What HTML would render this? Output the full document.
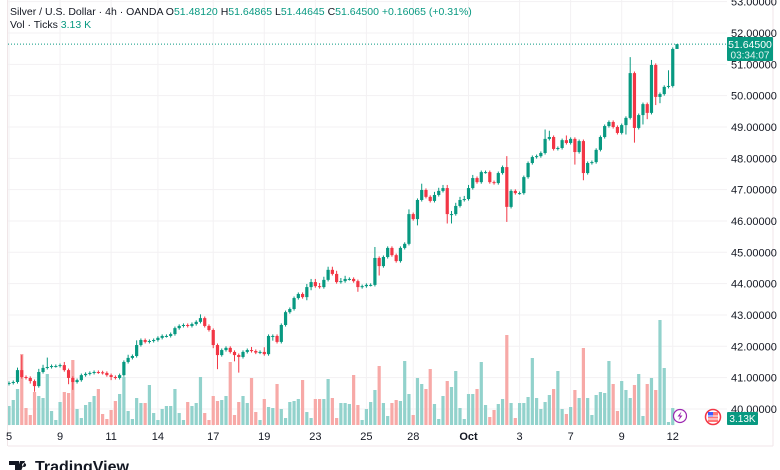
<!DOCTYPE html>
<html><head><meta charset="utf-8"><style>
html,body{margin:0;padding:0;background:#fff;width:780px;height:470px;overflow:hidden;font-family:"Liberation Sans",sans-serif}
svg{display:block}
</style></head><body>
<svg id="chart" width="780" height="470" xmlns="http://www.w3.org/2000/svg">
<rect x="0" y="0" width="780" height="470" fill="#fff"/>
<g id="grid"></g>
<g id="vol"></g>
<g id="candles"></g>
<line x1="8" y1="446" x2="773" y2="446" stroke="#f0e6e8"/>
<line x1="773" y1="0" x2="773" y2="446" stroke="#f0e6e8"/>
<line x1="7.5" y1="0" x2="7.5" y2="446" stroke="#f0e6e8"/>
<g id="yaxis" font-size="11" fill="#131722"></g>
<g id="xaxis" font-size="11" fill="#131722"></g>
<line id="lastline" x1="8" x2="727" stroke="#089981" stroke-dasharray="1,2"/>
<g>
<rect x="727" y="37" width="46" height="24" fill="#089981" rx="1"/>
<text x="750" y="48" font-size="10.5" fill="#fff" text-anchor="middle">51.64500</text>
<text x="750" y="58.5" font-size="10" fill="#e6f5f2" text-anchor="middle">03:34:07</text>
</g>
<g>
<rect x="727" y="412" width="31" height="13" fill="#089981" rx="1"/>
<text x="742.5" y="422" font-size="10" fill="#fff" text-anchor="middle">3.13K</text>
</g>
<g>
<circle cx="713" cy="417" r="7.5" fill="#fff" stroke="#f23645" stroke-width="1.5"/>
<rect x="708" y="412" width="10" height="10" fill="#f77" /><rect x="708" y="412" width="5" height="5" fill="#3d5afe"/>
<line x1="708" y1="416" x2="718" y2="416" stroke="#fff"/><line x1="708" y1="419" x2="718" y2="419" stroke="#fff"/>
</g>
<g>
<circle cx="680" cy="416" r="6.5" fill="#fff" stroke="#9c27b0" stroke-width="1.2"/>
<path d="M681.5 411.5 L677.5 416.5 L680 416.5 L678.5 420.5 L682.5 415.5 L680 415.5 Z" fill="#9c27b0"/>
</g>
<text x="10" y="15" font-size="10.5" fill="#131722">Silver / U.S. Dollar · 4h · OANDA <tspan fill="#131722">O</tspan><tspan fill="#089981">51.48120</tspan> <tspan>H</tspan><tspan fill="#089981">51.64865</tspan> <tspan>L</tspan><tspan fill="#089981">51.44645</tspan> <tspan>C</tspan><tspan fill="#089981">51.64500</tspan> <tspan fill="#089981">+0.16065 (+0.31%)</tspan></text>
<text x="10" y="28" font-size="10.5" fill="#131722">Vol · Ticks <tspan fill="#089981">3.13 K</tspan></text>
<g>
<path d="M9 461 h10 v10 h-4 v-6 h-6 z M20 461 h5 l-4 10 h-4 z M24 463 a2 2 0 1 0 0.1 0" fill="#131722"/>
<text x="35" y="472" font-size="16" font-weight="bold" fill="#131722">TradingView</text>
</g>
</svg>
<script>
const closes=[40.83,40.86,41.24,41.02,40.99,40.89,40.73,41.18,41.31,41.34,41.37,41.37,41.40,41.24,40.99,40.86,40.92,41.08,41.12,41.15,41.18,41.17,
41.15,41.08,41.02,40.99,41.08,41.50,41.63,41.69,42.04,42.20,42.14,42.17,42.20,42.27,42.33,42.33,42.39,42.58,42.65,42.68,42.65,42.71,42.78,42.90,42.65,42.52,42.04,41.72,41.88,41.95,41.82,41.72,41.66,41.82,41.88,41.85,41.80,
41.82,41.75,42.33,42.33,42.14,42.68,43.09,43.19,43.54,43.67,43.57,43.89,44.05,43.92,43.89,44.12,44.44,44.31,44.05,44.08,44.15,44.15,44.08,43.89,43.92,43.96,43.96,44.82,44.56,44.85,45.14,44.91,44.72,45.14,45.27,46.22,46.06,46.67,46.99,46.77,46.64,46.83,46.96,47.05,46.22,46.22,46.48,46.67,46.70,47.05,47.37,47.24,47.56,47.56,47.24,47.21,47.53,47.72,46.45,46.96,46.89,46.89,47.40,47.85,48.04,48.07,48.17,48.62,48.68,48.30,48.33,48.58,48.49,48.62,48.20,48.55,47.53,47.85,47.88,48.27,48.68,49.03,49.16,49.00,48.81,49.06,49.29,50.72,48.97,49.38,49.73,49.45,50.98,49.96,50.05,50.28,50.31,51.49,51.645];
const firstOpen=40.80;
const wickUp=[.05,.05,.08,.48,.05,.05,.05,.1,.1,.3, .05,.05,.05,.1,.05,.05,.05,.05,.05,.05, .05,.05,.05,.05,.05,.05,.05,.05,.1,.05, .15,.05,.05,.05,.05,.05,.05,.05,.05,.05, .05,.05,.05,.05,.05,.12,.05,.05,.05,.05,
.05,.05,.05,.05,.05,.05,.05,.1,.05,.05, .15,.05,.05,.05,.05,.05,.05,.05,.05,.05, .1,.1,.1,.1,.1,.1,.1,.1,.1,.1, .05,.05,.05,.05,.05,.05,.35,.05,.05,.05, .05,.05,.05,.05,.15,.05,.05,.2,.05,.05,
.1,.1,.1,.1,.1,.1,.1,.1,.1,.1, .05,.05,.05,.05,.05,.05,.05,.35,.05,.05, .05,.05,.05,.05,.05,.05,.3,.2,.05,.05, .05,.15,.05,.05,.05,.05,.05,.05,.05,.05, .05,.05,.05,.05,.05,.05,.51,.05,.05,.05, .05,.16,.05,.05,.05,.5,.05];
const wickDn=[.05,.05,.05,.05,.05,.08,.18,.05,.05,.05, .05,.05,.05,.05,.2,.25,.05,.05,.05,.05, .05,.05,.05,.05,.1,.05,.05,.05,.05,.05, .05,.05,.05,.05,.05,.05,.05,.05,.05,.05, .05,.05,.05,.05,.05,.05,.05,.05,.1,.45,
.05,.05,.05,.2,.5,.05,.05,.05,.05,.05, .05,.05,.15,.05,.05,.05,.05,.05,.05,.05, .1,.1,.05,.05,.05,.05,.05,.05,.05,.05, .05,.05,.15,.05,.05,.05,.05,.3,.05,.05, .05,.05,.05,.05,.05,.05,.2,.05,.05,.05,
.05,.05,.05,.3,.3,.05,.05,.05,.05,.05, .05,.05,.05,.05,.05,.05,.05,.48,.05,.05, .05,.05,.05,.05,.05,.05,.05,.05,.05,.05, .05,.05,.05,.4,.05,.23,.05,.05,.05,.05, .05,.05,.05,.05,.05,.3,.05,.47,.05,.3, .2,.05,.26,.2,.05,.05,.05];
const volumes=[19,25,36,71,17,10,33,29,27,51,14,5,23,33,32,65,16,7,20,23,29,36,11,6,15,24,31,48,14,6,27,22,22,40,12,5,16,19,19,36,12,5,23,19,22,48,12,5,29,24,25,29,63,10,23,29,22,47,13,5,26,18,17,41,16,7,23,24,26,45,13,7,26,26,26,46,27,7,22,22,
21,50,20,5,16,23,35,59,22,9,22,25,24,64,31,10,47,41,36,56,21,6,29,44,38,54,17,6,31,31,36,63,20,8,15,21,26,90,22,7,22,22,28,67,27,16,23,30,36,54,16,11,18,35,27,77,27,10,30,33,32,64,41,14,44,35,27,40,51,9,41,47,35,105,57,3,17];
const priceTicks=[53,52,51,50,49,48,47,46,45,44,43,42,41,40];
const dateLabels=["5","9","11","14","17","19","23","25","28","Oct","3","7","9","12"];
const dateIdx=[0,12,24,35,48,60,72,84,95,108,120,132,144,156];

const NS="http://www.w3.org/2000/svg";
function mk(tag,attrs,parent){const e=document.createElementNS(NS,tag);for(const k in attrs)e.setAttribute(k,attrs[k]);parent.appendChild(e);return e;}
const x0=9,x1=677;
const N=closes.length;
const step=(x1-x0)/(N-1);
function xOf(i){return x0+i*step;}
function yOf(p){return 33+(52-p)*31.33;}
function vy(v){return 425-v;}

const grid=document.getElementById('grid'),yax=document.getElementById('yaxis'),xax=document.getElementById('xaxis');
priceTicks.forEach(p=>{
  const l=mk('line',{x1:8,x2:727,y1:yOf(p),y2:yOf(p),stroke:'#f3f1f3'},grid);
  
  
  const t=mk('text',{x:731,y:yOf(p)+4},yax);
  t.textContent=p.toFixed(5);
  
  
});
dateLabels.forEach((d,k)=>{
  const x=xOf(dateIdx[k]);
  const l=mk('line',{x1:x,x2:x,y1:0,y2:426,stroke:'#f3f1f3'},grid);
  
  
  const t=mk('text',{x:x,y:440,'text-anchor':'middle'},xax);
  if(d==='Oct')t.setAttribute('font-weight','bold');
  t.textContent=d;
  
  
});
const cg=document.getElementById('candles'),vg=document.getElementById('vol');
const M=Math.min(N,volumes.length);
for(let i=0;i<N;i++){
  const o=i===0?firstOpen:closes[i-1],c=closes[i];
  const up=c>=o;
  const hi=Math.max(o,c)+wickUp[i],lo=Math.min(o,c)-wickDn[i];
  const x=xOf(i);
  const col=up?'#089981':'#f23645';
  if(i<M){
    const r=mk('rect',{x:x-1.6,y:vy(volumes[i]),width:3.2,height:volumes[i],fill:up?'#92d2cc':'#f7a9a7'},vg);
    
    
  }
  const w=mk('line',{x1:x,x2:x,y1:yOf(hi),y2:yOf(lo),stroke:col,'stroke-width':1},cg);
  
  
  const yt=yOf(Math.max(o,c)),yb=yOf(Math.min(o,c));
  const b=mk('rect',{x:x-1.6,y:yt,width:3.2,height:Math.max(1,yb-yt),fill:col},cg);
  
  
}
const ll=document.getElementById('lastline');
ll.setAttribute('y1',yOf(closes[N-1]));ll.setAttribute('y2',yOf(closes[N-1]));
</script>
</body></html>
